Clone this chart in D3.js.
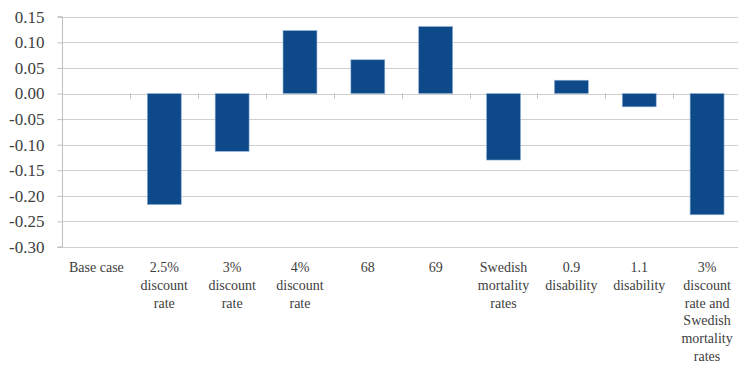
<!DOCTYPE html>
<html><head><meta charset="utf-8">
<script src="https://cdn.jsdelivr.net/npm/d3@7"></script>
<style>html,body{margin:0;padding:0;background:#fff;}</style>
</head><body>
<script>
const categories = ["Base case", "2.5% discount rate", "3% discount rate", "4% discount rate", "68", "69", "Swedish mortality rates", "0.9 disability", "1.1 disability", "3% discount rate and Swedish mortality rates"];
const categoryLines = [["Base case"], ["2.5%", "discount", "rate"], ["3%", "discount", "rate"], ["4%", "discount", "rate"], ["68"], ["69"], ["Swedish", "mortality", "rates"], ["0.9", "disability"], ["1.1", "disability"], ["3%", "discount", "rate and", "Swedish", "mortality", "rates"]];
const values = [0, -0.217, -0.113, 0.123, 0.066, 0.131, -0.130, 0.026, -0.026, -0.237];
const yTicks = [0.15, 0.10, 0.05, 0.00, -0.05, -0.10, -0.15, -0.20, -0.25, -0.30];

// force font resolution before drawing
const ctx = document.createElement("canvas").getContext("2d");
["22px", "17px", "14px", "13px"].forEach(s => { ctx.font = `${s} "Liberation Serif", monospace`; ctx.measureText("Base case discount 0.15"); });

const W = 738, H = 369;
const svg = d3.select("body").append("svg").attr("width", W).attr("height", H);
const FONT = "\"Liberation Serif\"";

const y = d3.scaleLinear().domain([-0.30, 0.15]).range([247, 16.8]);
const x = d3.scaleBand().domain(categories).range([62.5, 741]).paddingInner(0.5).paddingOuter(0.25);
const step = x.step();

// gridlines
svg.append("g").selectAll("line").data(yTicks).join("line")
  .attr("x1", 62.5).attr("x2", W)
  .attr("y1", d => Math.round(y(d)) + 0.5).attr("y2", d => Math.round(y(d)) + 0.5)
  .attr("stroke", "#cfcfcf").attr("stroke-width", 1);

// y axis
const yAxis = d3.axisLeft(y).tickValues(yTicks).tickSize(5).tickPadding(13)
  .tickFormat(d => d3.format(".2f")(d).replace("−", "-"));
const gy = svg.append("g").attr("transform", "translate(62.5,0)").call(yAxis);
gy.attr("font-family", null).attr("font-size", null);
gy.select(".domain").attr("stroke", "#bfbfbf").attr("d", `M-5,${y(0.15)}H0V${y(-0.30)}H-5`);
gy.selectAll(".tick line").attr("stroke", "#bfbfbf");
gy.selectAll(".tick text").style("font-family", FONT).style("font-size", "17px").attr("fill", "#404040");

// category tick marks along zero line
const bounds = categories.map(c => x(c) - step * 0.25).concat([x(categories[categories.length - 1]) + x.bandwidth() + step * 0.25]);
svg.append("g").selectAll("line").data(bounds.slice(1)).join("line")
  .attr("x1", d => Math.round(d) + 0.5).attr("x2", d => Math.round(d) + 0.5)
  .attr("y1", y(0)).attr("y2", y(0) + 5)
  .attr("stroke", "#bfbfbf");

// bars
svg.append("g").selectAll("rect").data(values).join("rect")
  .attr("x", (d, i) => x(categories[i]))
  .attr("width", x.bandwidth())
  .attr("y", d => y(Math.max(0, d)))
  .attr("height", d => Math.abs(y(d) - y(0)))
  .attr("fill", "#0e4a8a")
  .attr("stroke", "#8fb0d6").attr("stroke-width", 0.6);

// x labels
const lab = svg.append("g")
  .selectAll("text").data(categoryLines).join("text")
  .style("font-family", FONT).style("font-size", "14px").attr("fill", "#404040")
  .attr("text-anchor", "middle")
  .attr("transform", (d, i) => `translate(${x(categories[i]) + x.bandwidth() / 2},272)`);
lab.selectAll("tspan").data(d => d).join("tspan")
  .attr("x", 0).attr("y", (d, i) => i * 17.8).text(d => d);
</script>
</body></html>
